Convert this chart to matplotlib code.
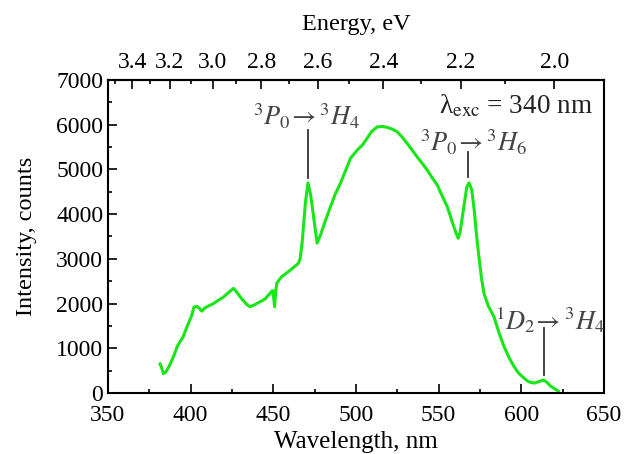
import matplotlib
matplotlib.use('Agg')
import numpy as np
import matplotlib.pyplot as plt
from matplotlib.ticker import MultipleLocator, FixedLocator

plt.rcParams['font.family'] = ['Liberation Serif', 'DejaVu Serif']
plt.rcParams['mathtext.fontset'] = 'stix'

# emission spectrum (nm, counts)
wavelength = [381.5, 382.5, 383.5, 385, 387, 388.5, 390, 392, 395.5, 398, 400.5, 402,
              403.7, 405, 406.8, 408.5, 411, 413.8, 417, 420, 423, 426, 428, 431, 434,
              435.7, 438, 442, 445, 448, 449.5, 450.3, 450.8, 451.5, 452.2, 455, 458.3,
              462, 465.2, 466.2, 467.4, 469.4, 471, 472.5, 474.5, 476.5, 478.5, 481,
              484.5, 487.5, 490.6, 494, 496.7, 500.7, 504, 506.8, 509.5, 512.8, 516,
              518.9, 522, 525, 528, 531, 534, 537, 540, 543, 546, 549.2, 552, 555.3,
              558, 560.5, 561.8, 563, 565, 567, 568.4, 570, 571.5, 573, 574.5, 576,
              577.4, 580, 583.5, 586.5, 589.6, 592.5, 595.6, 598.5, 601.7, 604.5,
              607.8, 611, 613.5, 615.5, 617.5, 619.9, 622.5]
intensity = [650, 560, 430, 470, 600, 720, 850, 1050, 1260, 1500, 1720, 1920,
             1940, 1900, 1830, 1900, 1950, 2000, 2080, 2150, 2250, 2340, 2250, 2100, 1980,
             1930, 1960, 2040, 2100, 2230, 2290, 2100, 1930, 2300, 2460, 2600, 2690,
             2800, 2900, 3000, 3350, 4250, 4700, 4450, 3900, 3350, 3530, 3800,
             4160, 4450, 4690, 5000, 5250, 5430, 5550, 5700, 5850, 5950, 5960,
             5940, 5900, 5840, 5720, 5580, 5430, 5280, 5140, 4990, 4820, 4650, 4420, 4160,
             3850, 3580, 3460, 3600, 4100, 4600, 4700, 4550, 4100, 3500, 3000, 2550,
             2230, 1950, 1700, 1350, 1035, 800, 590, 440, 330, 250,
             220, 260, 290, 240, 160, 100, 40]

# transition labels: text, marker wavelength, marker span, label position
trans_text = [r'$^3P_0\!\rightarrow{}^3H_4$', r'$^3P_0\!\rightarrow{}^3H_6$',
              r'$^1D_2\!\rightarrow{}^3H_4$']
trans_wl = [470.8, 567.6, 613.5]
trans_lo = [4810, 4840, 400]
trans_hi = [5880, 5400, 1450]
label_x = [470.3, 570.9, 617.5]
label_y = [5990, 5400, 1430]

energy_major = [3.4, 3.2, 3.0, 2.8, 2.6, 2.4, 2.2, 2.0]
energy_minor = [3.5, 3.3, 3.1, 2.9, 2.7, 2.5, 2.3, 2.1]

fig = plt.figure(figsize=(6.33, 4.54), dpi=100)
ax = fig.add_axes([0.1706, 0.1344, 0.7835, 0.6894])

ax.plot(wavelength, intensity, color='#19e619', lw=2.2)

for wl, lo, hi in zip(trans_wl, trans_lo, trans_hi):
    ax.plot([wl, wl], [lo, hi], color='#333333', lw=1.3)
for t, x, y in zip(trans_text, label_x, label_y):
    ax.text(x, y, t, ha='center', va='baseline', fontsize=19, color='#444444')

ax.text(643, 6250, 'λ$_{\\rm exc}$ = 340 nm', ha='right', va='baseline',
        fontsize=19.5, color='#222222')

ax.set_xlim(350, 650)
ax.set_ylim(0, 7000)
ax.xaxis.set_major_locator(MultipleLocator(50))
ax.xaxis.set_minor_locator(MultipleLocator(25))
ax.yaxis.set_major_locator(MultipleLocator(1000))
ax.yaxis.set_minor_locator(MultipleLocator(500))
ax.tick_params(which='both', direction='in', top=False, right=False, labelsize=17,
               width=1.2)
ax.tick_params(which='major', length=6.5)
ax.tick_params(which='minor', length=3)
ax.tick_params(axis='x', pad=9)
for s in ax.spines.values():
    s.set_linewidth(1.5)
ax.set_xlabel('Wavelength, nm', fontsize=18, labelpad=3)
ax.set_ylabel('Intensity, counts', fontsize=17.5, labelpad=14)

conv = lambda x: 1239.84 / np.asarray(x, dtype=float)
top = ax.secondary_xaxis('top', functions=(conv, conv))
top.set_xticks(energy_major)
top.xaxis.set_minor_locator(FixedLocator(energy_minor))
top.set_xticklabels(['%.1f' % e for e in energy_major])
top.tick_params(which='both', direction='in', labelsize=17, width=1.2, pad=5)
top.tick_params(which='major', length=6.5)
top.tick_params(which='minor', length=3)
top.spines['top'].set_linewidth(1.5)
top.set_xlabel('Energy, eV', fontsize=17.5, labelpad=16)

fig.savefig('out.png', dpi=100)
